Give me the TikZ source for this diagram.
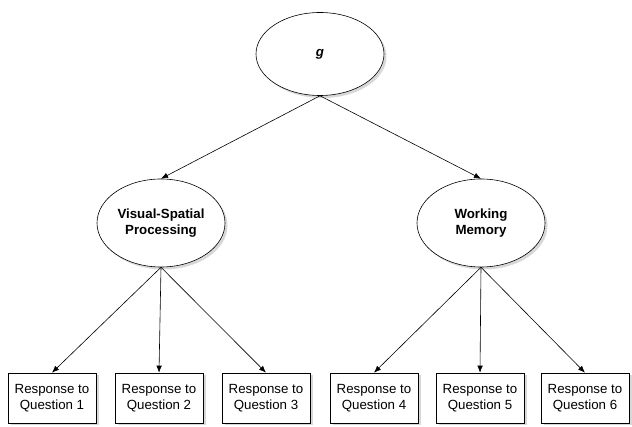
\documentclass[tikz,border=0pt]{standalone}
\usepackage{fontspec}
\setmainfont{Liberation Sans}
\usetikzlibrary{shapes.geometric,shadows,arrows.meta}

\tikzset{
  factor/.style={draw, ellipse, fill=white, minimum width=128pt, minimum height=88pt, inner sep=0pt, align=center, font=\fontsize{13.3}{16}\selectfont\bfseries, drop shadow={shadow xshift=2.5pt, shadow yshift=-2.5pt, fill=gray!60}},
  answer/.style={draw, rectangle, fill=white, minimum width=88pt, minimum height=50pt, inner sep=0pt, align=center, font=\fontsize{13.3}{16}\selectfont, drop shadow={shadow xshift=2.5pt, shadow yshift=-2.5pt, fill=gray!60}},
}

\begin{document}
\begin{tikzpicture}[x=1pt, y=-1pt, >={Latex[length=7pt,width=5.5pt]}, line width=0.6pt]
					\useasboundingbox (0,0) rectangle (632,427);
					\node (g) [factor, minimum height=83pt] at (320,54) {\itshape g};
					\node (vsp) [factor] at (161,223) {Visual-Spatial\\Processing};
					\node (wm) [factor] at (481,223) {Working\\Memory};
					\node (q1) [answer] at (52,398) {Response to\\Question 1};
					\node (q2) [answer] at (159,398) {Response to\\Question 2};
					\node (q3) [answer] at (266,398) {Response to\\Question 3};
					\node (q4) [answer] at (374,398) {Response to\\Question 4};
					\node (q5) [answer] at (480,398) {Response to\\Question 5};
					\node (q6) [answer] at (585,398) {Response to\\Question 6};
					
					% Arrows
					\draw[->] (g.south) -- (vsp.north);
					\draw[->] (g.south) -- (wm.north);
					\draw[->] (vsp.south) -- (q1.north);
					\draw[->] (vsp.south) -- (q2.north);
					\draw[->] (vsp.south) -- (q3.north);
					\draw[->] (wm.south) -- (q4.north);
					\draw[->] (wm.south) -- (q5.north);
					\draw[->] (wm.south) -- (q6.north);
				\end{tikzpicture}
\end{document}
